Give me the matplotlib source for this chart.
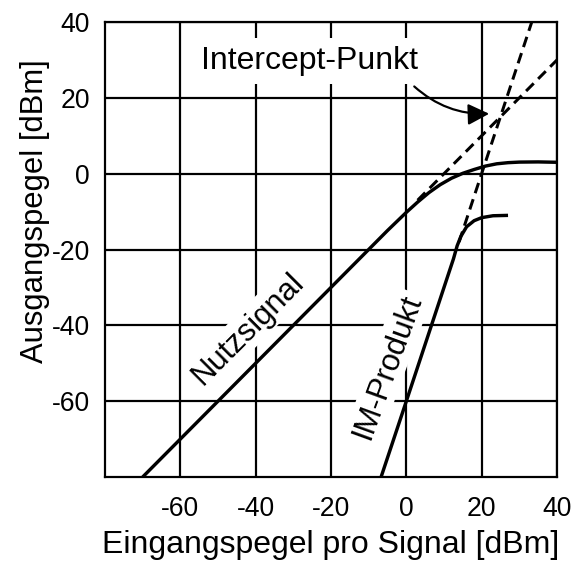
import matplotlib
matplotlib.use("Agg")
import matplotlib.pyplot as plt

plt.rcParams["font.family"] = ["Liberation Sans", "DejaVu Sans"]
plt.rcParams["axes.unicode_minus"] = False

# values (dBm)
nutz_x = [-70, -5, 0, 3, 6, 9, 12, 15, 18, 21, 24, 27, 30, 35, 40]
nutz_y = [-80, -15, -10.2, -7.5, -5, -2.9, -1.2, 0.1, 1.1, 2.0, 2.6, 2.9, 3.05, 3.1, 3.0]
nutz_ext_x = [3, 40]
nutz_ext_y = [-7, 30]

im_x = [-6.7, 0, 12.5, 13.5, 14.5, 16, 18, 20, 23, 27]
im_y = [-80, -60, -22.5, -19, -16.5, -14, -12.4, -11.6, -11.1, -11.0]
im_ext_x = [14, 33.3]
im_ext_y = [-18, 40]

ticks = [-60, -40, -20, 0, 20, 40]

fig = plt.figure(figsize=(8, 570 / 72), dpi=72)
ax = fig.add_axes([105 / 576, 1 - 477 / 570, 452 / 576, 455 / 570])

ax.plot(nutz_x, nutz_y, color="black", lw=3.4, zorder=3, solid_capstyle="butt")
ax.plot(im_x, im_y, color="black", lw=3.4, zorder=3, solid_capstyle="butt")
ax.plot(nutz_ext_x, nutz_ext_y, color="black", lw=3, ls=(0, (3.6, 2.1)), zorder=3)
ax.plot(im_ext_x, im_ext_y, color="black", lw=3, ls=(0, (3.6, 2.1)), zorder=3)

ax.set_xlim(-80, 40)
ax.set_ylim(-80, 40)
ax.set_xticks(ticks)
ax.set_yticks(ticks)
ax.grid(True, color="black", lw=2.2)
ax.set_axisbelow(True)
ax.tick_params(length=0, labelsize=26.5)
ax.tick_params(axis="x", pad=19)
ax.tick_params(axis="y", pad=15)
for s in ax.spines.values():
    s.set_linewidth(2.2)

ax.set_xlabel("Eingangspegel pro Signal [dBm]", fontsize=32, labelpad=8)
ax.set_ylabel("Ausgangspegel [dBm]", fontsize=31)
ax.yaxis.set_label_coords(-0.122, 0.585)

box = dict(facecolor="white", edgecolor="none", pad=3)
ax.text(-42, -41, "Nutzsignal", rotation=45, fontsize=31, ha="center", va="center",
        bbox=box, zorder=2)
ax.text(-5, -51, "IM-Produkt", rotation=70, fontsize=31, ha="center", va="center",
        bbox=box, zorder=2)
ax.text(-25.7, 29.8, "Intercept-Punkt", fontsize=32, ha="center", va="center",
        bbox=dict(facecolor="white", edgecolor="none", pad=8), zorder=2)
ax.annotate("", xy=(22, 15.8), xytext=(2.1, 23),
            arrowprops=dict(arrowstyle="-|>,head_length=0.5,head_width=0.25",
                            mutation_scale=36, color="black", lw=2.2,
                            connectionstyle="arc3,rad=0.2", shrinkA=0, shrinkB=0),
            zorder=4)

fig.savefig("out.png", dpi=72)
